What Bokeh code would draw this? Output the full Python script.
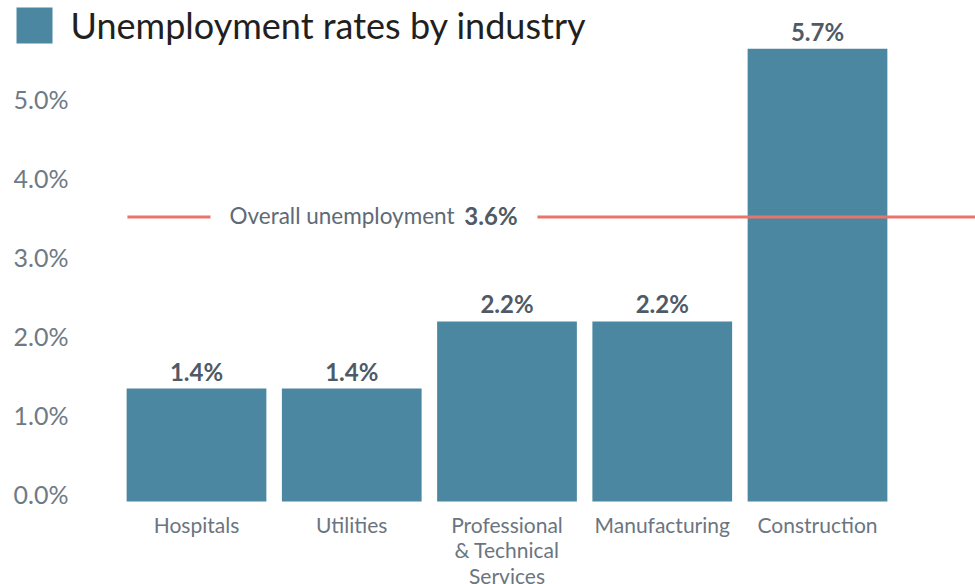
from bokeh.plotting import figure
from bokeh.models import ColumnDataSource, BoxAnnotation, FixedTicker, LinearAxis, Range1d
from bokeh.embed import file_html
from bokeh.resources import INLINE
from bokeh.core.properties import value

# ---- data ----
categories = ["Hospitals", "Utilities", "Professional\n& Technical\nServices", "Manufacturing", "Construction"]
rates = [1.43, 1.43, 2.28, 2.28, 5.73]
rate_labels = ["1.4%", "1.4%", "2.2%", "2.2%", "5.7%"]
overall_rate = 3.6
overall_label = "3.6%"
y_ticks = [0, 1, 2, 3, 4, 5]
y_tick_labels = ["0.0%", "1.0%", "2.0%", "3.0%", "4.0%", "5.0%"]
title_text = "Unemployment rates by industry"

FONT = "Lato"
BAR = "#4B87A0"

Y0, Y1 = -1.0506, 6.3418
LAB_SHIFT = 0.095  # tick labels sit a little above their value

xs = list(range(len(categories)))
src = ColumnDataSource(dict(x=xs, top=rates, lab=rate_labels))

p = figure(width=975, height=584, output_backend="svg", toolbar_location=None,
           x_range=(-1.2625, 5.0177), y_range=(Y0, Y1),
           min_border_left=0, min_border_right=0, min_border_top=0, min_border_bottom=0)
p.outline_line_color = None
p.background_fill_color = "white"
p.border_fill_color = "white"
p.xgrid.visible = False
p.ygrid.visible = False
p.yaxis.visible = False
p.extra_y_ranges = {"lab": Range1d(Y0 - LAB_SHIFT, Y1 - LAB_SHIFT)}

p.vbar(x="x", top="top", bottom=0, width=0.9, source=src, color=BAR, line_color=None)
p.text(x="x", y="top", text="lab", source=src, text_align="center", text_baseline="bottom",
       y_offset=-3, text_font=value(FONT), text_font_style="bold", text_font_size="24px",
       text_color="#4F5A66")

# overall line
line_src = ColumnDataSource(dict(x0=[-0.445, 2.196], x1=[0.09, 5.1], y=[overall_rate, overall_rate]))
p.segment(x0="x0", y0="y", x1="x1", y1="y", source=line_src, line_color="#E9756A", line_width=3)
p.text(x=[0.2126], y=[overall_rate], text=["Overall unemployment"], text_align="left",
       text_baseline="middle", y_offset=-2, text_font=value(FONT), text_font_size="22.5px",
       text_color="#5E6A75")
p.text(x=[2.068], y=[overall_rate], text=[overall_label], text_align="right",
       text_baseline="middle", y_offset=-2, text_font=value(FONT), text_font_style="bold",
       text_font_size="24px", text_color="#4F5A66")

# title
p.add_layout(BoxAnnotation(left=-1.1594, right=-0.9275, bottom=5.797, top=6.253, fill_color=BAR,
                           fill_alpha=1, line_color=None))
p.text(x=[-0.8116], y=[6.038], text=[title_text], text_baseline="alphabetic", text_align="left",
       text_font=value(FONT), text_font_size="36px", text_color="#231F20")

# x axis drawn inside the frame at y = 0
p.xaxis.fixed_location = 0
p.xaxis.ticker = FixedTicker(ticks=xs)
p.xaxis.major_label_overrides = {i: c for i, c in zip(xs, categories)}
p.xaxis.axis_line_color = None
p.xaxis.major_tick_line_color = None
p.xaxis.minor_tick_line_color = None
p.xaxis.major_tick_out = 0
p.xaxis.major_tick_in = 0
p.xaxis.major_label_standoff = 10
p.xaxis.major_label_text_font = FONT
p.xaxis.major_label_text_font_size = "21px"
p.xaxis.major_label_text_line_height = 1.03
p.xaxis.major_label_text_color = "#6B7580"

yax = LinearAxis(y_range_name="lab", fixed_location=-0.7472,
                 ticker=FixedTicker(ticks=y_ticks),
                 major_label_overrides={t: l for t, l in zip(y_ticks, y_tick_labels)},
                 axis_line_color=None, major_tick_line_color=None, minor_tick_line_color=None,
                 major_tick_out=0, major_tick_in=0, major_label_standoff=12,
                 major_label_text_font=FONT, major_label_text_font_size="25px",
                 major_label_text_color="#6E7A84")
p.add_layout(yax, "left")

open("out.html", "w").write(file_html(p, INLINE))
